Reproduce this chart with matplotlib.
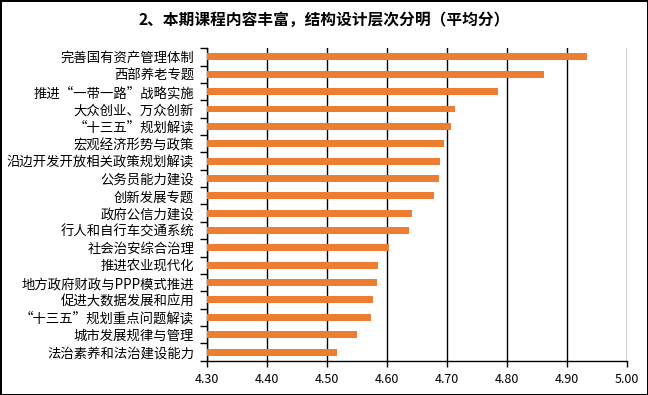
import matplotlib
matplotlib.use('Agg')
import matplotlib.pyplot as plt
import numpy as np

plt.rcParams['font.family'] = ['Noto Sans CJK SC', 'DejaVu Sans']

courses = ['完善国有资产管理体制', '西部养老专题', '推进“一带一路”战略实施',
           '大众创业、万众创新', '“十三五”规划解读', '宏观经济形势与政策',
           '沿边开发开放相关政策规划解读', '公务员能力建设', '创新发展专题',
           '政府公信力建设', '行人和自行车交通系统', '社会治安综合治理',
           '推进农业现代化', '地方政府财政与PPP模式推进', '促进大数据发展和应用',
           '“十三五”规划重点问题解读', '城市发展规律与管理', '法治素养和法治建设能力']
scores = [4.933, 4.861, 4.785, 4.713, 4.707, 4.695, 4.688, 4.686, 4.678,
          4.642, 4.637, 4.603, 4.585, 4.583, 4.577, 4.573, 4.550, 4.517]
xticks = [4.30, 4.40, 4.50, 4.60, 4.70, 4.80, 4.90, 5.00]

fig = plt.figure(figsize=(6.48, 3.95), dpi=100, edgecolor='black', linewidth=2)
ax = fig.add_axes([0.319, 0.0868, 0.649, 0.791])

y = np.arange(len(courses))
ax.barh(y, scores, left=0, height=0.4, color='#ED7D31', zorder=3)
ax.set_xlim(4.30, 5.00)
ax.set_ylim(len(courses) - 0.5, -0.5)

ax.set_xticks(xticks)
ax.set_xticklabels(['%.2f' % t for t in xticks], fontsize=9)
ax.set_yticks(y)
ax.set_yticklabels(courses, fontsize=9.6)
ax.set_yticks(np.arange(len(courses) + 1) - 0.5, minor=True)
ax.tick_params(axis='y', which='major', length=0, pad=9)
ax.tick_params(axis='y', which='minor', length=5, width=1, color='black')
ax.tick_params(axis='x', length=4, width=1, color='black', pad=5)

ax.grid(axis='x', color='black', linewidth=1, zorder=1)
for s in ['top', 'right']:
    ax.spines[s].set_visible(False)
ax.spines['left'].set_linewidth(1)
ax.spines['bottom'].set_linewidth(1)

fig.text(0.5, 0.949, '2、本期课程内容丰富，结构设计层次分明（平均分）',
         ha='center', va='center', fontsize=11.3, fontweight='bold')

fig.savefig('out.png', dpi=100)
